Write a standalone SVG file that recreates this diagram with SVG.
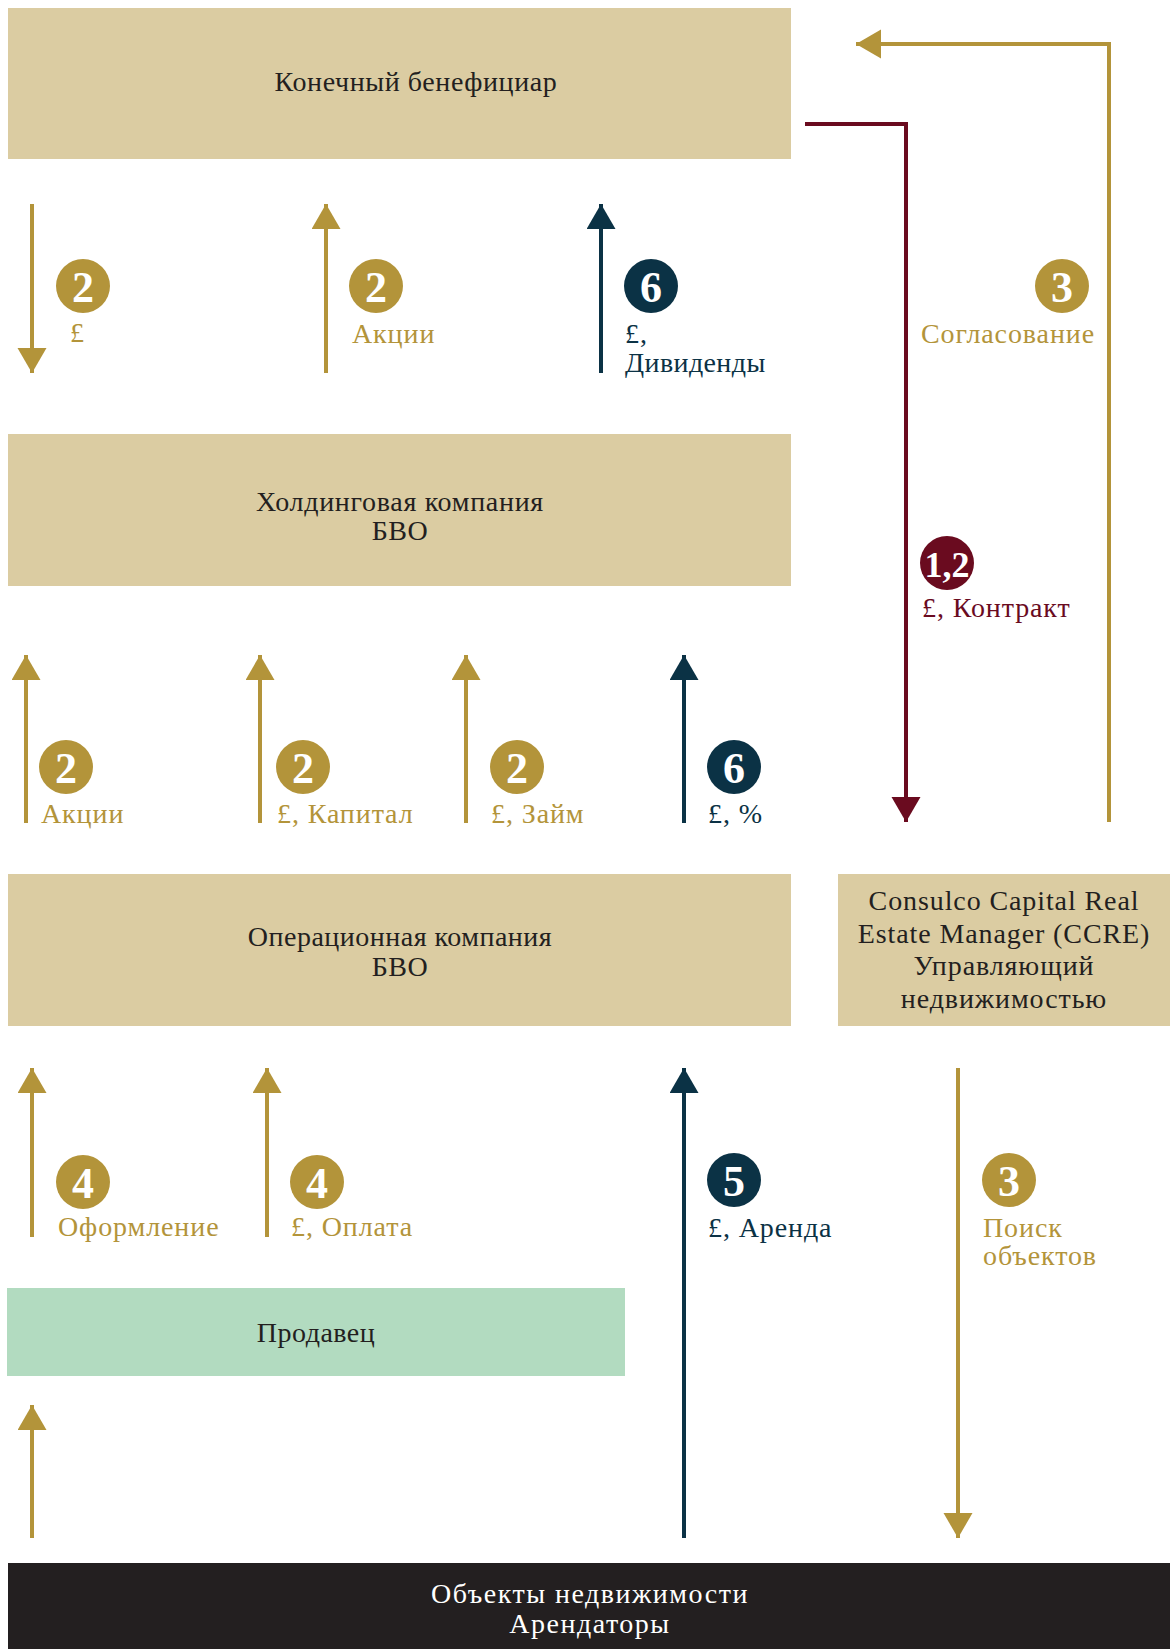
<svg xmlns="http://www.w3.org/2000/svg" width="1175" height="1649" viewBox="0 0 1175 1649" font-family="'Liberation Serif', 'Times New Roman', serif">
<style>
text{font-family:'Liberation Serif','Times New Roman',serif}
.box{fill:#dbcca2}
.bt{font-size:28px;letter-spacing:0.5px;fill:#231f20;text-anchor:middle}
.cc{letter-spacing:0.9px}
.lb{font-size:28px;letter-spacing:0.9px}
.num{font-size:44px;font-weight:bold;fill:#fff;text-anchor:middle}
.g{fill:#b3943a}
.d{fill:#0b3245}
.r{fill:#6a0b1f}
.ln{fill:none;stroke-width:4}
.lg{stroke:#b3943a}
.ld{stroke:#0b3245}
.lr{stroke:#6a0b1f}
</style>
<defs>
<marker id="mg" markerUnits="userSpaceOnUse" markerWidth="26" markerHeight="30" refX="25" refY="14.5" orient="auto"><path d="M0,0 L25,14.5 L0,29 z" fill="#b3943a"/></marker>
<marker id="md" markerUnits="userSpaceOnUse" markerWidth="26" markerHeight="30" refX="25" refY="14.5" orient="auto"><path d="M0,0 L25,14.5 L0,29 z" fill="#0b3245"/></marker>
<marker id="mr" markerUnits="userSpaceOnUse" markerWidth="26" markerHeight="30" refX="25" refY="14.5" orient="auto"><path d="M0,0 L25,14.5 L0,29 z" fill="#6a0b1f"/></marker>
</defs>
<rect width="1175" height="1649" fill="#fff"/>

<g id="node-beneficiary"><rect class="box" x="8" y="8" width="783" height="151"/><text class="bt" x="416" y="91" style="letter-spacing:0.6px">Конечный бенефициар</text></g>
<g id="node-holding"><rect class="box" x="8" y="434" width="783" height="152"/><text class="bt" x="400" y="511" style="letter-spacing:0.7px">Холдинговая компания</text><text class="bt" x="400" y="540">БВО</text></g>
<g id="node-opco"><rect class="box" x="8" y="874" width="783" height="152"/><text class="bt" x="400" y="946">Операционная компания</text><text class="bt" x="400" y="976">БВО</text></g>
<g id="node-ccre"><rect class="box" x="838" y="874" width="332" height="152"/><text class="bt cc" x="1004" y="910">Consulco Capital Real</text><text class="bt cc" x="1004" y="943">Estate Manager (CCRE)</text><text class="bt cc" x="1004" y="975">Управляющий</text><text class="bt cc" x="1004" y="1008">недвижимостью</text></g>
<g id="node-seller"><rect x="7" y="1288" width="618" height="88" fill="#b2dbc0"/><text class="bt" x="316" y="1342">Продавец</text></g>
<g id="node-property"><rect x="8" y="1563" width="1162" height="86" fill="#231f20"/><text class="bt" x="590" y="1603" style="fill:#fff;letter-spacing:1.5px">Объекты недвижимости</text><text class="bt" x="590" y="1633" style="fill:#fff;letter-spacing:1.5px">Арендаторы</text></g>

<g id="connectors">
<path class="ln lg" d="M32,204 V373" marker-end="url(#mg)"/>
<path class="ln lg" d="M326,373 V204" marker-end="url(#mg)"/>
<path class="ln ld" d="M601,373 V204" marker-end="url(#md)"/>
<path class="ln lg" d="M1109,822 V44 H856" marker-end="url(#mg)"/>
<path class="ln lr" d="M805,124 H906 V822" marker-end="url(#mr)"/>
<path class="ln lg" d="M26,823 V655" marker-end="url(#mg)"/>
<path class="ln lg" d="M260,823 V655" marker-end="url(#mg)"/>
<path class="ln lg" d="M466,823 V655" marker-end="url(#mg)"/>
<path class="ln ld" d="M684,823 V655" marker-end="url(#md)"/>
<path class="ln lg" d="M32,1237 V1068" marker-end="url(#mg)"/>
<path class="ln lg" d="M267,1237 V1068" marker-end="url(#mg)"/>
<path class="ln ld" d="M684,1538 V1068" marker-end="url(#md)"/>
<path class="ln lg" d="M958,1068 V1538" marker-end="url(#mg)"/>
<path class="ln lg" d="M32,1538 V1405" marker-end="url(#mg)"/>
</g>

<g id="labels">
<circle class="g" cx="83" cy="286" r="27"/><text class="num" x="83" y="302">2</text><text class="lb g" x="70" y="342">£</text>
<circle class="g" cx="376" cy="286" r="27"/><text class="num" x="376" y="302">2</text><text class="lb g" x="352" y="343">Акции</text>
<circle class="d" cx="651" cy="286" r="27"/><text class="num" x="651" y="302">6</text><text class="lb d" x="625" y="343">£,</text><text class="lb d" x="625" y="372" style="letter-spacing:0.4px">Дивиденды</text>
<circle class="g" cx="1062" cy="286" r="27"/><text class="num" x="1062" y="302">3</text><text class="lb g" x="1095" y="343" text-anchor="end">Согласование</text>
<circle class="r" cx="947" cy="563" r="27"/><text class="num" x="947" y="577" style="font-size:36px">1,2</text><text class="lb r" x="922" y="617">£, Контракт</text>
<circle class="g" cx="66" cy="767" r="27"/><text class="num" x="66" y="783">2</text><text class="lb g" x="41" y="823">Акции</text>
<circle class="g" cx="303" cy="767" r="27"/><text class="num" x="303" y="783">2</text><text class="lb g" x="277" y="823">£, Капитал</text>
<circle class="g" cx="517" cy="767" r="27"/><text class="num" x="517" y="783">2</text><text class="lb g" x="491" y="823">£, Займ</text>
<circle class="d" cx="734" cy="767" r="27"/><text class="num" x="734" y="783">6</text><text class="lb d" x="708" y="823">£, %</text>
<circle class="g" cx="83" cy="1182" r="27"/><text class="num" x="83" y="1198">4</text><text class="lb g" x="58" y="1236">Оформление</text>
<circle class="g" cx="317" cy="1182" r="27"/><text class="num" x="317" y="1198">4</text><text class="lb g" x="291" y="1236">£, Оплата</text>
<circle class="d" cx="734" cy="1180" r="27"/><text class="num" x="734" y="1196">5</text><text class="lb d" x="708" y="1237">£, Аренда</text>
<circle class="g" cx="1009" cy="1180" r="27"/><text class="num" x="1009" y="1196">3</text><text class="lb g" x="983" y="1237">Поиск</text><text class="lb g" x="983" y="1265">объектов</text>
</g>
</svg>
